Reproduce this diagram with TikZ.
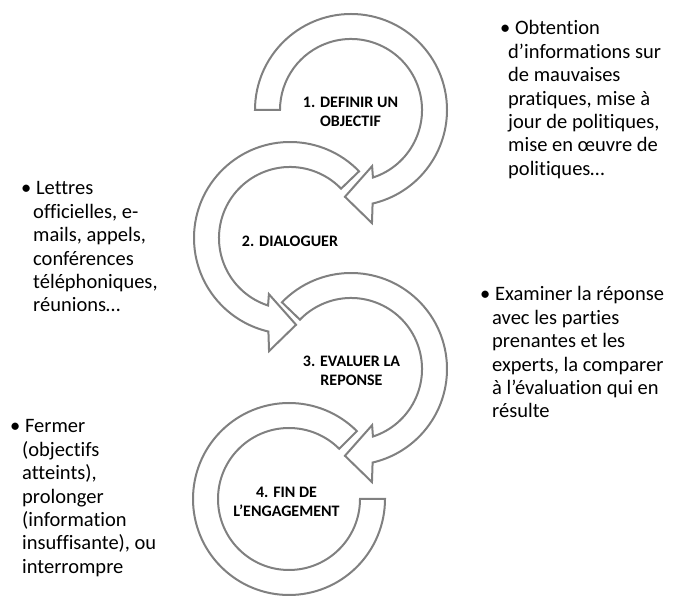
\documentclass[tikz,border=0pt]{standalone}
\usepackage{fontspec}
\setmainfont{Carlito}[Ligatures=NoCommon]
\definecolor{arrowgray}{RGB}{128,128,128}
\tikzset{
  arrowshape/.style={draw=arrowgray, line width=2pt, fill=white, line join=miter},
  steplabel/.style={font=\fontsize{16}{19}\selectfont\bfseries, align=center, inner sep=0pt},
  bullettext/.style={font=\fontsize{20.5}{23.4}\selectfont, align=left, anchor=base west, inner sep=0pt}
}
\begin{document}
\begin{tikzpicture}[x=1pt,y=1pt]
\useasboundingbox (0,0) rectangle (674,596);
\coordinate (c1) at (351,486);
\coordinate (c2) at (290,358);
\coordinate (c3) at (351,227);
\coordinate (c4) at (289,97);

% arrow 1 (clockwise)
\draw[arrowshape, shift={(c1)}] (180:96) arc[start angle=180,end angle=-77,radius=96]
  -- (-79.5:115) -- (-94:87) -- (-69.4:60) -- (-72:71)
  arc[start angle=-72,end angle=180,radius=71] -- cycle;
% arrow 2 (counter-clockwise)
\draw[arrowshape, shift={(c2)}] (44:96) arc[start angle=44,end angle=257,radius=96]
  -- (259.5:115) -- (274:87) -- (249.4:60) -- (252:71)
  arc[start angle=252,end angle=44,radius=71] -- cycle;
% arrow 3 (clockwise)
\draw[arrowshape, shift={(c3)}] (136:96) arc[start angle=136,end angle=-77,radius=96]
  -- (-79.5:115) -- (-94:87) -- (-69.4:60) -- (-72:71)
  arc[start angle=-72,end angle=136,radius=71] -- cycle;
% arrow 4 (counter-clockwise, no head)
\draw[arrowshape, shift={(c4)}] (45:96) arc[start angle=45,end angle=360,radius=96]
  -- (0:71) arc[start angle=360,end angle=45,radius=71] -- cycle;

\node[steplabel] (l1) at (350.5,484.5) {1. DEFINIR UN\\OBJECTIF};
\node[steplabel] (l2) at (290,355) {2. DIALOGUER};
\node[steplabel] (l3) at (351.5,225) {3. EVALUER LA\\REPONSE};
\node[steplabel] (l4) at (286.5,94) {4. FIN DE\\L’ENGAGEMENT};

% anchor base = baseline of the last line
\node[bullettext] (tA) at (500,420.6) {• Obtention\\\hspace*{8pt}d’informations sur\\\hspace*{8pt}de mauvaises\\\hspace*{8pt}pratiques, mise à\\\hspace*{8pt}jour de politiques,\\\hspace*{8pt}mise en œuvre de\\\hspace*{8pt}politiques…};
\node[bullettext] (tB) at (21,284) {• Lettres\\\hspace*{12pt}officielles, e-\\\hspace*{12pt}mails, appels,\\\hspace*{12pt}conférences\\\hspace*{12pt}téléphoniques,\\\hspace*{12pt}réunions…};
\node[bullettext] (tC) at (480,178) {• Examiner la réponse\\\hspace*{12pt}avec les parties\\\hspace*{12pt}prenantes et les\\\hspace*{12pt}experts, la comparer\\\hspace*{12pt}à l’évaluation qui en\\\hspace*{12pt}résulte};
\node[bullettext] (tD) at (10,22.6) {• Fermer\\\hspace*{12pt}(objectifs\\\hspace*{12pt}atteints),\\\hspace*{12pt}prolonger\\\hspace*{12pt}(information\\\hspace*{12pt}insuffisante), ou\\\hspace*{12pt}interrompre};
\end{tikzpicture}
\end{document}
